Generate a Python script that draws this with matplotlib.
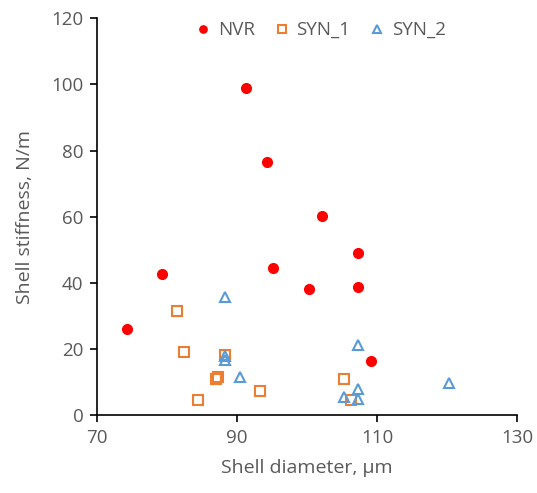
import numpy as np
import matplotlib.pyplot as plt

# shell diameter (um) and shell stiffness (N/m)
nvr_d = [74.3, 79.3, 91.3, 94.3, 95.1, 102.1, 100.3, 107.3, 107.3, 109.1]
nvr_k = [26.0, 42.6, 98.8, 76.4, 44.4, 60.1, 38.0, 49.0, 38.7, 16.3]

syn1_d = [81.4, 82.4, 88.3, 87.2, 87.0, 84.4, 93.3, 105.2, 106.3]
syn1_k = [31.4, 19.1, 18.1, 11.6, 11.0, 4.7, 7.3, 10.9, 4.5]

syn2_d = [88.3, 88.3, 88.3, 90.4, 107.3, 107.3, 105.2, 107.3, 120.3]
syn2_k = [35.6, 16.6, 17.8, 11.6, 21.1, 7.9, 5.5, 4.8, 9.8]

text_col = '#595959'
plt.rcParams['font.family'] = ['Open Sans', 'DejaVu Sans']

fig = plt.figure(figsize=(5.37, 4.93), dpi=100)
ax = fig.add_axes([0.181, 0.158, 0.782, 0.805])

ax.plot(nvr_d, nvr_k, 'o', color='#FF0000', markersize=7, label='NVR', linestyle='none')
ax.plot(syn1_d, syn1_k, 's', markerfacecolor='none', markeredgecolor='#ED7D31',
        markeredgewidth=1.5, markersize=7.5, label='SYN_1', linestyle='none')
ax.plot(syn2_d, syn2_k, '^', markerfacecolor='none', markeredgecolor='#5B9BD5',
        markeredgewidth=1.5, markersize=7.5, label='SYN_2', linestyle='none')

ax.set_xlim(70, 130)
ax.set_ylim(0, 120)
ax.set_xticks([70, 90, 110, 130])
ax.set_yticks(np.arange(0, 121, 20))
for s in ['top', 'right']:
    ax.spines[s].set_visible(False)
for s in ['left', 'bottom']:
    ax.spines[s].set_color('black')
    ax.spines[s].set_linewidth(1.2)
ax.tick_params(direction='out', length=5, width=1.2, colors='black',
               labelcolor=text_col, labelsize=13.5, pad=5)

ax.set_xlabel('Shell diameter, µm', color=text_col, fontsize=14, labelpad=9)
ax.set_ylabel('Shell stiffness, N/m', color=text_col, fontsize=14, labelpad=12)

ax.legend(loc='upper center', bbox_to_anchor=(0.53, 1.035), ncol=3, frameon=False,
          fontsize=13.5, labelcolor=text_col, handlelength=1.0, handletextpad=0.3,
          columnspacing=0.9, markerscale=0.75)

fig.savefig('out.png', dpi=100)
